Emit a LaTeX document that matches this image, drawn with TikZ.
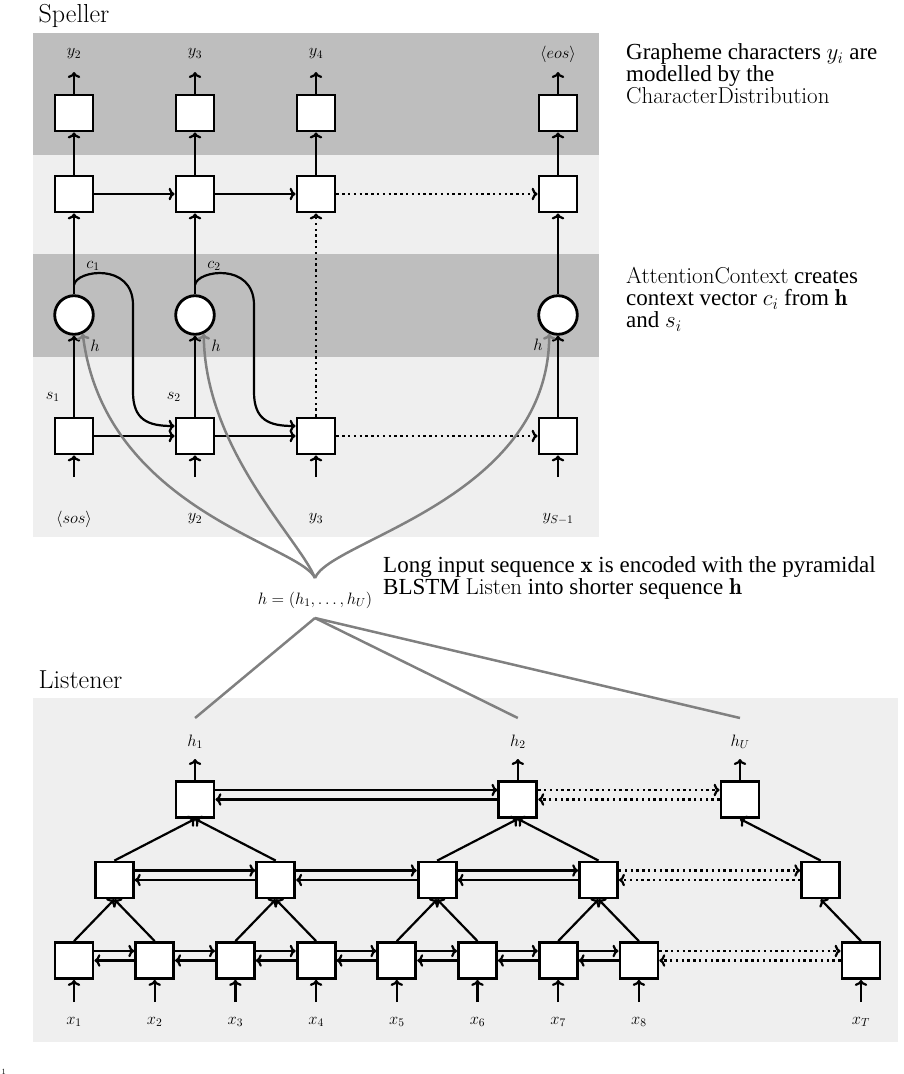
\RequirePackage{fix-cm}
\documentclass[tikz,border=0pt]{standalone}
\usepackage{fontspec}
\newfontfamily\tnr{Liberation Serif}
\usetikzlibrary{arrows.meta,calc}
\definecolor{darkband}{gray}{0.745}
\definecolor{lightband}{gray}{0.937}
\definecolor{hgray}{gray}{0.5}
\tikzset{
 cell/.style={draw, line width=2.8pt, fill=white, minimum width=38pt, minimum height=36pt, inner sep=0pt},
 attn/.style={draw, circle, line width=2.8pt, fill=white, minimum size=38.6pt, inner sep=0pt},
 conn/.style={line width=2.2pt, -{To[length=6pt,width=12.5pt]}},
 dconn/.style={conn, dash pattern=on 2.4pt off 3.4pt},
 lbl/.style={inner sep=0pt, font=\fontsize{16.5}{16.5}\selectfont},
 hconn/.style={draw=hgray, line width=2.5pt},
 harrow/.style={hconn, -{To[length=6pt,width=12.5pt]}},
 title/.style={inner sep=0pt, anchor=base west, font=\fontsize{26}{26}\selectfont},
 note/.style={inner sep=0pt, anchor=north west, align=left, font=\tnr\fontsize{23}{22}\selectfont},
}
\begin{document}
\begin{tikzpicture}[x=1pt,y=-1pt]
\useasboundingbox (0,0) rectangle (904,1074);
% backgrounds
\fill[darkband] (33,33) rectangle (599,155);
\fill[lightband] (33,155) rectangle (599,254);
\fill[darkband] (33,254) rectangle (599,357);
\fill[lightband] (33,357) rectangle (599,537);
\fill[lightband] (33,698) rectangle (898,1042);
\node[title] (speller) at (38.5,22.5) {Speller};
\node[title] (listener) at (38.5,688.3) {Listener};
% ---------------- Speller
\foreach \i/\x in {1/74,2/195,3/316,4/558} {
  \node[cell] (o\i) at (\x,113) {};
  \node[cell] (r\i) at (\x,194) {};
  \node[cell] (s\i) at (\x,436) {};
  \coordinate (ot\i) at (\x,72);
  \coordinate (it\i) at (\x,477);
  \draw[conn] (o\i) -- (ot\i);
  \draw[conn] (r\i) -- (o\i);
  \draw[conn] (it\i) -- (s\i);
}
\foreach \i/\x in {1/74,2/195,4/558} {
  \node[attn] (a\i) at (\x,315) {};
  \draw[conn] (s\i) -- (a\i);
  \draw[conn] (a\i) -- (r\i);
}
\draw[dconn] (s3) -- (r3);
\draw[conn] (r1) -- (r2);
\draw[conn] (r2) -- (r3);
\draw[dconn] (r3) -- (r4);
\draw[conn] (s1) -- (s2);
\draw[conn] (s2) -- (s3);
\draw[dconn] (s3) -- (s4);
% labels
\node[lbl] (ly1) at (74,54) {$y_2$};
\node[lbl] (ly2) at (195,54) {$y_3$};
\node[lbl] (ly3) at (316,54) {$y_4$};
\node[lbl] (ly4) at (558,54) {$\langle eos\rangle$};
\node[lbl] (li1) at (74,519) {$\langle sos\rangle$};
\node[lbl] (li2) at (195,519) {$y_2$};
\node[lbl] (li3) at (316,519) {$y_3$};
\node[lbl] (li4) at (558,519) {$y_{S-1}$};
\node[lbl] (lc1) at (93,265.7) {$c_1$};
\node[lbl] (lc2) at (214,265.7) {$c_2$};
\node[lbl] (ls1) at (52.7,396.7) {$s_1$};
\node[lbl] (ls2) at (173.7,396.7) {$s_2$};
\node[lbl] (lh1) at (95,346) {$h$};
\node[lbl] (lh2) at (216,346) {$h$};
\node[lbl] (lh4) at (538,345) {$h$};
% context curves
\coordinate (cs1) at (74,285);
\coordinate (cs2) at (195,285);
\draw[conn] (cs1) .. controls (76,270) and (133,262) .. (133,305) -- (133,392) .. controls (133,420) and (148,426) .. ($(s2.west)+(0,-10)$);
\draw[conn] (cs2) .. controls (197,270) and (254,262) .. (254,305) -- (254,392) .. controls (254,420) and (269,426) .. ($(s3.west)+(0,-10)$);
% h sequence
\node[lbl] (hseq) at (315,600) {$h=(h_1,\ldots,h_U)$};
\coordinate (hj) at (315,578);
\coordinate (hb) at (315,618);
\draw[harrow] (hj) .. controls (300,545) and (105,510) .. (a1.-65);
\draw[harrow] (hj) .. controls (300,540) and (205,450) .. (a2.-65);
\draw[harrow] (hj) .. controls (330,540) and (548,500) .. (a4.-115);
% notes
\node[note] (n1) at (626,43.5) {Grapheme characters $y_i$ are\\modelled by the\\{\rmfamily CharacterDistribution}};
\node[note] (n2) at (626,267.5) {{\rmfamily AttentionContext} creates\\context vector $c_i$ from $\mathbf{h}$\\and $s_i$};
\node[note] (n3) at (383,556) {Long input sequence $\mathbf{x}$ is encoded with the pyramidal\\BLSTM {\rmfamily Listen} into shorter sequence $\mathbf{h}$};
% ---------------- Listener
\foreach \k in {1,...,8} {
  \pgfmathsetmacro\xx{74+80.7*(\k-1)}
  \node[cell] (L\k) at (\xx,960.5) {};
  \coordinate (xi\k) at (\xx,1002);
  \draw[conn] (xi\k) -- (L\k);
  \node[lbl] (xl\k) at (\xx,1021.7) {$x_{\k}$};
}
\node[cell] (LT) at (861,960.5) {};
\coordinate (xiT) at (861,1002);
\draw[conn] (xiT) -- (LT);
\node[lbl] (xlT) at (861,1021.7) {$x_T$};
\foreach \k in {1,...,4} {
  \pgfmathsetmacro\xx{114.35+161.4*(\k-1)}
  \node[cell] (M\k) at (\xx,880) {};
}
\node[cell] (MU) at (820.7,880) {};
\node[cell] (T1) at (195.05,799.5) {};
\node[cell] (T2) at (517.85,799.5) {};
\node[cell] (TU) at (740,799.5) {};
\foreach \k in {1,...,4} {
  \pgfmathtruncatemacro\ka{2*\k-1}
  \pgfmathtruncatemacro\kb{2*\k}
  \draw[conn] (L\ka.north) -- (M\k.south);
  \draw[conn] (L\kb.north) -- (M\k.south);
}
\draw[conn] (M1.north) -- (T1.south);
\draw[conn] (M2.north) -- (T1.south);
\draw[conn] (M3.north) -- (T2.south);
\draw[conn] (M4.north) -- (T2.south);
\draw[conn] (LT.north) -- (MU.south);
\draw[conn] (MU.north) -- (TU.south);
\foreach \a/\b in {L1/L2,L2/L3,L3/L4,L4/L5,L5/L6,L6/L7,L7/L8,M1/M2,M2/M3,M3/M4,T1/T2} {
  \draw[conn] ($(\a.east)+(0,-9.5)$) -- ($(\b.west)+(0,-9.5)$);
  \draw[conn] (\b.west) -- (\a.east);
}
\foreach \a/\b in {L8/LT,M4/MU,T2/TU} {
  \draw[dconn] ($(\a.east)+(0,-9.5)$) -- ($(\b.west)+(0,-9.5)$);
  \draw[dconn] (\b.west) -- (\a.east);
}
% outputs
\foreach \n/\x/\t in {1/195.05/h_1,2/517.85/h_2,U/740/h_U} {
  \node[lbl] (hl\n) at (\x,741.7) {$\t$};
  \coordinate (ht\n) at (\x,759);
  \coordinate (g\n) at (\x,718);
  \draw[hconn] (hb) -- (g\n);
}
\draw[conn] (T1) -- (ht1);
\draw[conn] (T2) -- (ht2);
\draw[conn] (TU) -- (htU);
\node[anchor=north west, inner sep=0pt, font=\fontsize{8}{8}\selectfont] (fn) at (1.5,1069) {1};
\end{tikzpicture}
\end{document}
